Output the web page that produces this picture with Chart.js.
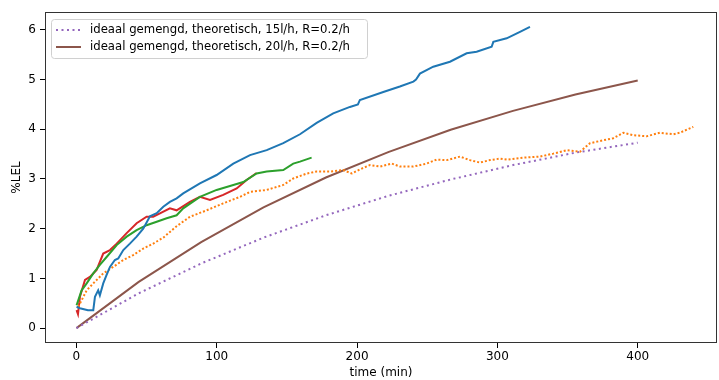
<!DOCTYPE html>
<html>
<head>
<meta charset="utf-8">
<script src="https://cdn.jsdelivr.net/npm/chart.js@4.4.1/dist/chart.umd.min.js"></script>
<style>
  html, body { margin: 0; padding: 0; background: #fff; }
  #wrap { width: 719px; height: 380px; }
</style>
</head>
<body>
<div id="wrap"><canvas id="chart" width="719" height="380"></canvas></div>
<script>
// metingen (tijd in min, %LEL)
const blueT = [0.1, 2.5, 8.2, 12.0, 13.2, 15.5, 16.7, 19.1, 21.5, 23.9, 27.4, 29.8, 33.4, 38.1, 42.9, 47.6, 52.4, 57.2, 61.9, 66.6, 71.4, 76.1, 88.0, 99.9, 111.8, 123.7, 135.6, 147.4, 159.3, 171.2, 183.0, 194.9, 200.6, 202.0, 218.7, 230.5, 240.1, 242.0, 244.8, 254.3, 266.2, 278.1, 285.2, 295.9, 297.1, 306.6, 316.1, 323.2];
const blueV = [0.43, 0.40, 0.36, 0.36, 0.63, 0.76, 0.66, 0.90, 1.07, 1.23, 1.37, 1.40, 1.57, 1.70, 1.84, 2.00, 2.25, 2.31, 2.44, 2.54, 2.61, 2.71, 2.91, 3.08, 3.31, 3.48, 3.58, 3.72, 3.90, 4.13, 4.32, 4.45, 4.50, 4.59, 4.75, 4.86, 4.96, 5.00, 5.12, 5.26, 5.36, 5.53, 5.56, 5.66, 5.76, 5.83, 5.96, 6.06];

const orangeT = [1.3, 3.7, 7.3, 12.0, 19.1, 26.2, 33.4, 40.5, 47.6, 54.7, 61.9, 71.4, 80.9, 92.8, 104.6, 116.5, 123.7, 135.6, 147.4, 154.5, 164.1, 171.2, 180.7, 190.2, 196.2, 203.3, 209.2, 216.3, 224.7, 230.6, 240.1, 249.6, 256.7, 263.9, 273.3, 280.5, 287.6, 294.7, 301.9, 306.6, 318.5, 330.3, 339.8, 349.4, 358.9, 366.0, 375.5, 382.6, 389.7, 396.9, 406.4, 415.8, 425.3, 430.0, 439.6];
const orangeV = [0.43, 0.56, 0.76, 0.90, 1.10, 1.23, 1.37, 1.47, 1.60, 1.70, 1.82, 2.05, 2.24, 2.37, 2.51, 2.64, 2.74, 2.78, 2.88, 3.01, 3.11, 3.15, 3.15, 3.18, 3.11, 3.21, 3.28, 3.25, 3.31, 3.25, 3.25, 3.31, 3.39, 3.38, 3.45, 3.38, 3.33, 3.38, 3.41, 3.39, 3.43, 3.45, 3.51, 3.58, 3.55, 3.72, 3.78, 3.82, 3.93, 3.88, 3.86, 3.93, 3.90, 3.93, 4.05];

const greenT = [0.1, 3.7, 7.3, 12.0, 16.7, 21.5, 28.7, 35.8, 42.9, 50.0, 57.2, 64.3, 71.4, 76.1, 88.0, 99.9, 111.8, 118.9, 128.4, 135.6, 147.4, 154.5, 159.3, 167.6];
const greenV = [0.46, 0.76, 0.90, 1.10, 1.27, 1.43, 1.67, 1.84, 1.97, 2.07, 2.14, 2.21, 2.27, 2.41, 2.64, 2.78, 2.88, 2.94, 3.11, 3.15, 3.18, 3.31, 3.35, 3.43];

const redT = [0.1, 1.1, 2.5, 6.1, 9.6, 14.4, 19.1, 23.9, 28.7, 35.8, 42.9, 50.0, 54.7, 59.5, 66.6, 71.4, 80.9, 88.0, 95.2, 104.6, 114.2, 121.3, 128.4];
const redV = [0.36, 0.28, 0.63, 0.97, 1.03, 1.17, 1.50, 1.57, 1.70, 1.91, 2.11, 2.24, 2.24, 2.31, 2.41, 2.37, 2.54, 2.64, 2.58, 2.68, 2.81, 2.98, 3.12];

// theorie, ideaal gemengd
const theoryT = [0, 44.4, 88.9, 133.3, 177.8, 222.2, 266.7, 311.1, 355.6, 400];
const theory15V = [0, 0.70, 1.30, 1.82, 2.27, 2.66, 2.99, 3.28, 3.53, 3.73];
const theory20V = [0, 0.93, 1.73, 2.43, 3.03, 3.54, 3.99, 4.37, 4.70, 4.98];

const legendLabels = [
  "ideaal gemengd, theoretisch, 15l/h, R=0.2/h",
  "ideaal gemengd, theoretisch, 20l/h, R=0.2/h",
];
const xTicks = [0, 100, 200, 300, 400];
const yTicks = [0, 1, 2, 3, 4, 5, 6];

const FONT = "'DejaVu Sans', sans-serif";

function pts(ts, vs) {
  return ts.map((t, i) => ({ x: t, y: vs[i] }));
}

function line(label, ts, vs, color, extra) {
  return Object.assign({
    label: label,
    data: pts(ts, vs),
    borderColor: color,
    backgroundColor: color,
    borderWidth: 2,
    pointRadius: 0,
    tension: 0,
    fill: false,
  }, extra || {});
}

// kader rond het plotgebied + legenda in de hoek
const framePlugin = {
  id: "frame",
  afterDatasetsDraw(chart) {
    const { ctx, chartArea: a } = chart;
    ctx.save();
    ctx.strokeStyle = "#333";
    ctx.lineWidth = 1;
    ctx.strokeRect(a.left + 0.5, a.top + 0.5, a.right - a.left - 1, a.bottom - a.top - 1);

    const bx = 51, by = 19, bw = 316, bh = 39;
    ctx.beginPath();
    ctx.roundRect(bx + 0.5, by + 0.5, bw, bh, 3);
    ctx.fillStyle = "rgba(255,255,255,0.8)";
    ctx.fill();
    ctx.strokeStyle = "#d0d0d0";
    ctx.stroke();

    const rows = [
      { y: 30, color: "#9467bd", dash: [2, 3.5] },
      { y: 47, color: "#8c564b", dash: [] },
    ];
    ctx.font = "11.7px " + FONT;
    ctx.textBaseline = "middle";
    rows.forEach((r, i) => {
      ctx.beginPath();
      ctx.setLineDash(r.dash);
      ctx.strokeStyle = r.color;
      ctx.lineWidth = 2;
      ctx.moveTo(56, r.y);
      ctx.lineTo(81, r.y);
      ctx.stroke();
      ctx.setLineDash([]);
      ctx.fillStyle = "#000";
      ctx.fillText(legendLabels[i], 90, r.y);
    });
    ctx.restore();
  },
};

new Chart(document.getElementById("chart"), {
  type: "line",
  data: {
    datasets: [
      line("", blueT, blueV, "#1f77b4"),
      line("", orangeT, orangeV, "#ff7f0e", { borderDash: [2, 2] }),
      line("", greenT, greenV, "#2ca02c"),
      line("", redT, redV, "#d62728"),
      line(legendLabels[0], theoryT, theory15V, "#9467bd", { borderDash: [2, 3.5] }),
      line(legendLabels[1], theoryT, theory20V, "#8c564b"),
    ],
  },
  options: {
    responsive: false,
    animation: false,
    layout: { padding: { left: 0, top: 12, right: 2, bottom: 0 } },
    plugins: {
      legend: { display: false },
      tooltip: { enabled: false },
    },
    scales: {
      x: {
        type: "linear",
        min: -22.4,
        max: 456.5,
        afterFit: (s) => { s.height = 37; },
        afterBuildTicks: (s) => { s.ticks = xTicks.map((v) => ({ value: v })); },
        grid: { display: true, drawOnChartArea: false, drawTicks: true, tickLength: 5, color: "#000" },
        border: { display: false },
        ticks: { color: "#000", padding: 2, font: { family: FONT, size: 12 }, maxRotation: 0 },
        title: { display: true, text: "time (min)", color: "#000", padding: 0, font: { family: FONT, size: 12 } },
      },
      y: {
        type: "linear",
        min: -0.30,
        max: 6.36,
        afterFit: (s) => { s.width = 45; },
        afterBuildTicks: (s) => { s.ticks = yTicks.map((v) => ({ value: v })); },
        grid: { display: true, drawOnChartArea: false, drawTicks: true, tickLength: 5, color: "#000" },
        border: { display: false },
        ticks: { color: "#000", padding: 4, font: { family: FONT, size: 12 } },
        title: { display: true, text: "%LEL", color: "#000", padding: { top: 10, bottom: 0 }, font: { family: FONT, size: 12 } },
      },
    },
  },
  plugins: [framePlugin],
});
</script>
</body>
</html>
